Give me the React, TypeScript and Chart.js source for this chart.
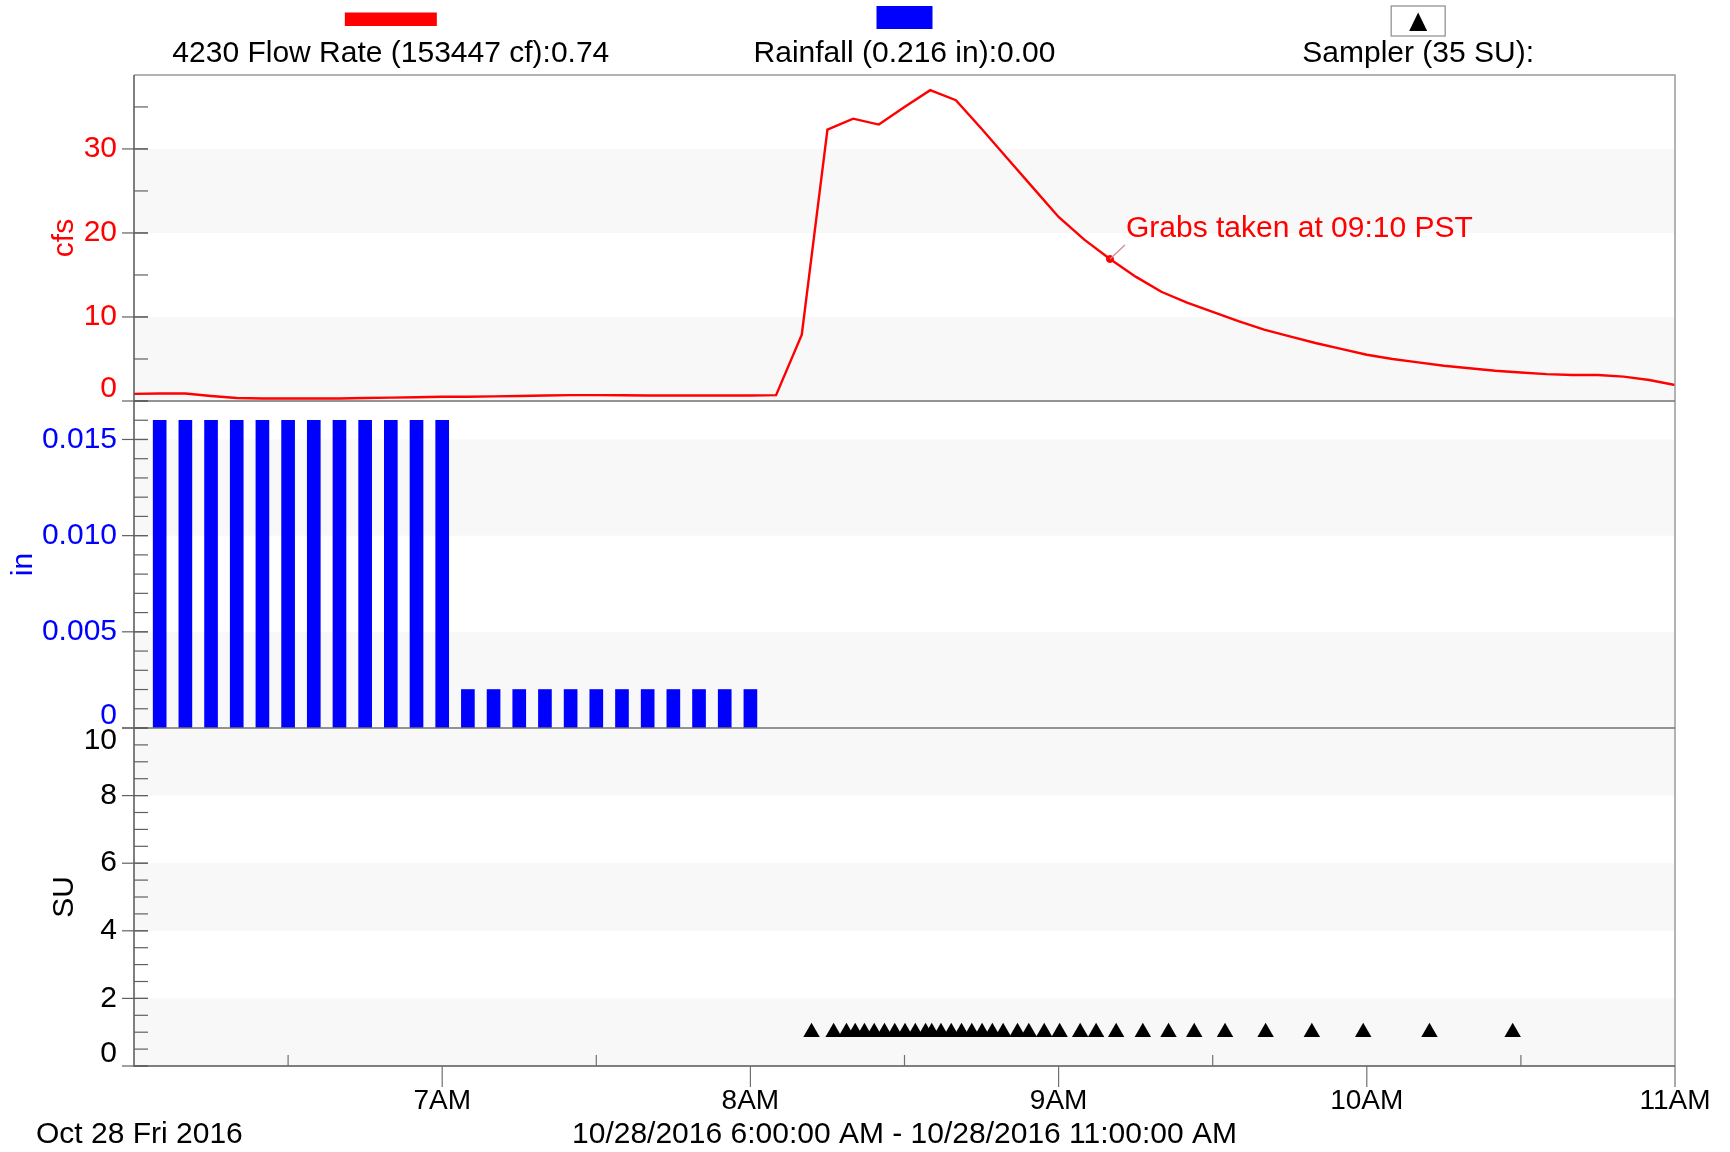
import React, { useEffect, useRef } from 'react';
import { Chart, registerables } from 'chart.js';

Chart.register(...registerables);

const FONT = "'Liberation Sans', Arial, Helvetica, sans-serif";

// ---- Data (minutes after 6:00 AM on 10/28/2016) ----
const flowMinutes = [
  0, 5, 10, 15, 20, 25, 30, 35, 40, 45, 50, 55, 60, 65, 70, 75, 80, 85, 90, 95,
  100, 105, 110, 115, 120, 125, 130, 135, 140, 145, 150, 155, 160, 165, 170, 175,
  180, 185, 190, 195, 200, 205, 210, 215, 220, 225, 230, 235, 240, 245, 250, 255,
  260, 265, 270, 275, 280, 285, 290, 295, 300,
];
const flowCfs = [
  0.85, 0.9, 0.9, 0.6, 0.35, 0.3, 0.3, 0.3, 0.3, 0.35, 0.4, 0.45, 0.5, 0.5, 0.55, 0.6, 0.65, 0.7, 0.7, 0.68,
  0.65, 0.65, 0.65, 0.65, 0.65, 0.7, 7.9, 32.3, 33.6, 32.9, 35.0, 37.0, 35.8, 32.4, 28.9, 25.4,
  21.9, 19.2, 16.9, 14.8, 13.0, 11.7, 10.6, 9.5, 8.5, 7.7, 6.9, 6.2, 5.5, 5.0, 4.6, 4.2,
  3.9, 3.6, 3.4, 3.2, 3.1, 3.1, 2.9, 2.5, 1.9,
];

const rainMinutes = [5, 10, 15, 20, 25, 30, 35, 40, 45, 50, 55, 60, 65, 70, 75, 80, 85, 90, 95, 100, 105, 110, 115, 120];
const rainInches = [
  0.016, 0.016, 0.016, 0.016, 0.016, 0.016, 0.016, 0.016, 0.016, 0.016, 0.016, 0.016,
  0.002, 0.002, 0.002, 0.002, 0.002, 0.002, 0.002, 0.002, 0.002, 0.002, 0.002, 0.002,
];

const samplerMinutes = [
  131.9, 136.2, 138.7, 140.4, 142.2, 144.1, 146.1, 148.1, 150.1, 152.1, 154.1, 155.3,
  157.1, 159.1, 161.1, 163.1, 165.1, 167.1, 169.2, 172.0, 174.2, 177.2, 180.2, 184.2,
  187.3, 191.2, 196.4, 201.4, 206.4, 212.4, 220.3, 229.3, 239.3, 252.2, 268.4,
];
const samplerSU = [
  1, 1, 1, 1, 1, 1, 1, 1, 1, 1, 1, 1, 1, 1, 1, 1, 1, 1, 1, 1, 1, 1, 1, 1, 1, 1, 1, 1, 1, 1, 1, 1, 1, 1, 1,
];

const grabMinute = [190];
const grabCfs = [16.9];
const grabText = 'Grabs taken at 09:10 PST';

// ---- Axis ticks / labels ----
const hourTicks = [60, 120, 180, 240, 300];
const hourLabels = ['7AM', '8AM', '9AM', '10AM', '11AM'];
const halfHourTicks = [30, 90, 150, 210, 270];

const flowTicks = [0, 10, 20, 30];
const flowTickLabels = ['0', '10', '20', '30'];
const rainTicks = [0, 0.005, 0.01, 0.015];
const rainTickLabels = ['0', '0.005', '0.010', '0.015'];
const suTicks = [0, 2, 4, 6, 8, 10];
const suTickLabels = ['0', '2', '4', '6', '8', '10'];

const flowBands = [[0, 10], [20, 30]];
const rainBands = [[0, 0.005], [0.01, 0.015]];
const suBands = [[0, 2], [4, 6], [8, 10]];

const legendFlow = '4230 Flow Rate (153447 cf):0.74';
const legendRain = 'Rainfall (0.216 in):0.00';
const legendSampler = 'Sampler (35 SU):';
const dateLabel = 'Oct 28 Fri 2016';
const rangeLabel = '10/28/2016 6:00:00 AM - 10/28/2016 11:00:00 AM';

const RED = '#ff0000';
const BLUE = '#0000ff';

export default function App() {
  const ref = useRef<HTMLCanvasElement>(null);

  useEffect(() => {
    const canvas = ref.current!;

    const axisDefs = [
      { id: 'yFlow', ticks: flowTicks, labels: flowTickLabels, minorStep: 5, color: RED, bands: flowBands, title: 'cfs', titleX: 73 },
      { id: 'yRain', ticks: rainTicks, labels: rainTickLabels, minorStep: 0.001, color: BLUE, bands: rainBands, title: 'in', titleX: 32 },
      { id: 'ySU', ticks: suTicks, labels: suTickLabels, minorStep: 0.5, color: '#000000', bands: suBands, title: 'SU', titleX: 73 },
    ];

    const decor = {
      id: 'decor',
      beforeDatasetsDraw(chart: any) {
        const ctx = chart.ctx;
        const area = chart.chartArea;
        ctx.save();
        ctx.fillStyle = '#f8f8f8';
        for (const a of axisDefs) {
          const s = chart.scales[a.id];
          for (const [lo, hi] of a.bands) {
            const y1 = s.getPixelForValue(hi);
            const y2 = s.getPixelForValue(lo);
            ctx.fillRect(area.left, y1, area.right - area.left, y2 - y1);
          }
        }
        ctx.restore();
      },
      afterDatasetsDraw(chart: any) {
        const ctx = chart.ctx;
        const area = chart.chartArea;
        const xs = chart.scales.x;
        ctx.save();

        // frame
        ctx.lineWidth = 1.5;
        ctx.strokeStyle = '#9a9a9a';
        ctx.beginPath();
        ctx.moveTo(area.left, area.top);
        ctx.lineTo(area.right, area.top);
        ctx.lineTo(area.right, area.bottom);
        ctx.stroke();
        ctx.strokeStyle = '#707070';
        for (const id of ['yFlow', 'yRain']) {
          const s = chart.scales[id];
          ctx.beginPath();
          ctx.moveTo(area.left, s.bottom);
          ctx.lineTo(area.right, s.bottom);
          ctx.stroke();
        }
        ctx.strokeStyle = '#555555';
        ctx.beginPath();
        ctx.moveTo(area.left, area.top);
        ctx.lineTo(area.left, area.bottom);
        ctx.lineTo(area.right, area.bottom);
        ctx.stroke();

        // y ticks + labels + titles
        ctx.lineWidth = 1.2;
        for (const a of axisDefs) {
          const s = chart.scales[a.id];
          ctx.strokeStyle = '#606060';
          const n = Math.round((s.max - s.min) / a.minorStep);
          for (let k = 0; k <= n; k++) {
            const v = s.min + k * a.minorStep;
            const y = s.getPixelForValue(v);
            if (y < s.top - 0.5 || y > s.bottom + 0.5) continue;
            ctx.beginPath();
            ctx.moveTo(area.left, y);
            ctx.lineTo(area.left + 14, y);
            ctx.stroke();
          }
          a.ticks.forEach((v: number, i: number) => {
            const y = s.getPixelForValue(v);
            ctx.beginPath();
            ctx.moveTo(area.left - 12, y);
            ctx.lineTo(area.left + 14, y);
            ctx.stroke();
            ctx.font = `30px ${FONT}`;
            ctx.fillStyle = a.color;
            ctx.textAlign = 'right';
            ctx.textBaseline = 'middle';
            const ly = Math.min(Math.max(y, s.top + 13), s.bottom - 12);
            ctx.fillText(a.labels[i], area.left - 17, ly);
          });
          ctx.save();
          ctx.translate(a.titleX, (s.top + s.bottom) / 2);
          ctx.rotate(-Math.PI / 2);
          ctx.font = `30px ${FONT}`;
          ctx.fillStyle = a.color;
          ctx.textAlign = 'center';
          ctx.textBaseline = 'alphabetic';
          ctx.fillText(a.title, 0, 0);
          ctx.restore();
        }

        // x ticks
        ctx.strokeStyle = '#707070';
        ctx.lineWidth = 1.2;
        for (const v of hourTicks) {
          const x = xs.getPixelForValue(v);
          ctx.beginPath();
          ctx.moveTo(x, area.bottom);
          ctx.lineTo(x, area.bottom + 21);
          ctx.stroke();
        }
        for (const v of halfHourTicks) {
          const x = xs.getPixelForValue(v);
          ctx.beginPath();
          ctx.moveTo(x, area.bottom);
          ctx.lineTo(x, area.bottom - 11);
          ctx.stroke();
        }
        ctx.font = `28px ${FONT}`;
        ctx.fillStyle = '#000';
        ctx.textAlign = 'center';
        ctx.textBaseline = 'middle';
        hourTicks.forEach((v, i) => {
          ctx.fillText(hourLabels[i], xs.getPixelForValue(v), area.bottom + 35);
        });

        // bottom texts
        ctx.font = `30px ${FONT}`;
        ctx.textAlign = 'left';
        ctx.fillText(dateLabel, 36, area.bottom + 69);
        ctx.textAlign = 'center';
        const cx = (area.left + area.right) / 2;
        ctx.fillText(rangeLabel, cx, area.bottom + 69);

        // legend
        const w = area.right - area.left;
        const lx = [cx - w / 3, cx, cx + w / 3];
        ctx.fillStyle = RED;
        ctx.fillRect(lx[0] - 46, 12.5, 92, 13.5);
        ctx.fillStyle = BLUE;
        ctx.fillRect(lx[1] - 28, 6, 56, 23);
        ctx.fillStyle = '#fff';
        ctx.fillRect(lx[2] - 27, 6, 54, 30);
        ctx.strokeStyle = '#8a8a8a';
        ctx.lineWidth = 1.2;
        ctx.strokeRect(lx[2] - 27, 6, 54, 30);
        ctx.fillStyle = '#000';
        ctx.beginPath();
        ctx.moveTo(lx[2], 12.5);
        ctx.lineTo(lx[2] + 9, 31);
        ctx.lineTo(lx[2] - 9, 31);
        ctx.closePath();
        ctx.fill();
        ctx.font = `30px ${FONT}`;
        ctx.fillStyle = '#000';
        ctx.textAlign = 'center';
        ctx.textBaseline = 'middle';
        ctx.fillText(legendFlow, lx[0], 54);
        ctx.fillText(legendRain, lx[1], 54);
        ctx.fillText(legendSampler, lx[2], 54);

        // grab annotation
        const px = xs.getPixelForValue(grabMinute[0]);
        const py = chart.scales.yFlow.getPixelForValue(grabCfs[0]);
        ctx.strokeStyle = '#d08a8a';
        ctx.lineWidth = 1.2;
        ctx.beginPath();
        ctx.moveTo(px, py);
        ctx.lineTo(px + 15, py - 14);
        ctx.stroke();
        ctx.font = `30px ${FONT}`;
        ctx.fillStyle = RED;
        ctx.textAlign = 'left';
        ctx.textBaseline = 'middle';
        ctx.fillText(grabText, px + 16, py - 30);

        ctx.restore();
      },
    };

    const yCommon = {
      type: 'linear',
      position: 'left',
      stack: 'panels',
      grid: { display: false },
      border: { display: false },
      ticks: { display: false },
      afterFit: (s: any) => { s.width = 134; },
    };

    const chart = new Chart(canvas, {
      type: 'line',
      data: {
        datasets: [
          {
            type: 'bar',
            label: 'Rainfall',
            data: rainMinutes.map((m, i) => ({ x: m, y: rainInches[i] })),
            yAxisID: 'yRain',
            xAxisID: 'x',
            backgroundColor: BLUE,
            borderWidth: 0,
            barThickness: 13,
          } as any,
          {
            type: 'line',
            label: 'Flow',
            data: flowMinutes.map((m, i) => ({ x: m, y: flowCfs[i] })),
            yAxisID: 'yFlow',
            xAxisID: 'x',
            borderColor: RED,
            borderWidth: 2.4,
            pointRadius: 0,
            tension: 0,
            fill: false,
          },
          {
            type: 'line',
            label: 'Grab',
            data: grabMinute.map((m, i) => ({ x: m, y: grabCfs[i] })),
            yAxisID: 'yFlow',
            xAxisID: 'x',
            showLine: false,
            pointRadius: 3.5,
            pointBackgroundColor: RED,
            pointBorderColor: RED,
          },
          {
            type: 'line',
            label: 'Sampler',
            data: samplerMinutes.map((m, i) => ({ x: m, y: samplerSU[i] })),
            yAxisID: 'ySU',
            xAxisID: 'x',
            showLine: false,
            pointStyle: 'triangle',
            pointRadius: 9.5,
            pointBackgroundColor: '#000',
            pointBorderColor: '#000',
            pointBorderWidth: 0,
          },
        ],
      },
      options: {
        responsive: false,
        animation: false,
        devicePixelRatio: 1,
        events: [],
        layout: { padding: { top: 75, right: 55, left: 0, bottom: 0 } },
        plugins: { legend: { display: false }, tooltip: { enabled: false }, title: { display: false } },
        scales: {
          x: {
            type: 'linear',
            min: 0,
            max: 300,
            offset: false,
            grid: { display: false },
            border: { display: false },
            ticks: { display: false },
            afterFit: (s: any) => { s.height = 86; },
          },
          // declared bottom-to-top: Chart.js stacks left axes in reverse order
          ySU: { ...yCommon, stackWeight: 338, min: 0, max: 10 },
          yRain: { ...yCommon, stackWeight: 327, min: 0, max: 0.017 },
          yFlow: { ...yCommon, stackWeight: 326, min: 0, max: 38.8 },
        } as any,
      },
      plugins: [decor],
    });

    return () => chart.destroy();
  }, []);

  return (
    <div style={{ position: 'absolute', left: 0, top: 0, width: 1730, height: 1152, background: '#ffffff' }}>
      <canvas ref={ref} width={1730} height={1152} style={{ display: 'block' }} />
    </div>
  );
}
